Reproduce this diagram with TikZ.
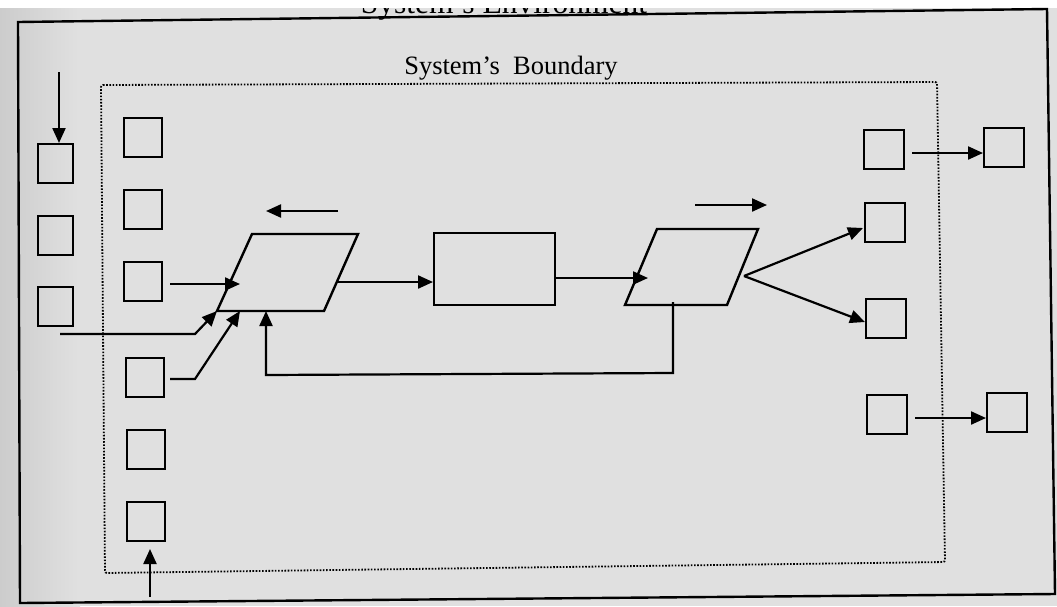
\documentclass[tikz,border=0pt]{standalone}
\usepackage{fontspec}
\setmainfont{Liberation Serif}
\usetikzlibrary{arrows.meta}
\begin{document}
\begin{tikzpicture}[x=1pt,y=-1pt,
  box/.style={draw, line width=2.4pt, minimum width=38pt, minimum height=39pt, inner sep=0pt, anchor=north west},
  ln/.style={line width=2.4pt},
  arr/.style={line width=2.2pt, -{Triangle[length=15pt,width=13pt]}},
  dotbound/.style={line width=1.8pt, dash pattern=on 1.6pt off 1.6pt, rounded corners=2pt},
  frame/.style={line width=2.4pt}
  ]
\useasboundingbox (0,0) rectangle (1057,606);
% paper
\fill[white] (0,0) rectangle (1057,8);
\fill[gray!24] (0,8) rectangle (1057,606);
\shade[left color=gray!40, right color=gray!24] (0,8) rectangle (80,606);

% title (cut off at the top, as in the scan)
\begin{scope}
  \clip (0,8) rectangle (1057,606);
  \node[anchor=base, inner sep=0pt, font=\fontsize{31.5}{36}\selectfont] (envlabel) at (504,13) {System's Environment};
\end{scope}

% environment frame and system boundary
\draw[frame] (18,22) -- (1047,9) -- (1055,594) -- (20,603) -- cycle;
\draw[dotbound] (101,85) -- (937,82) -- (945,562) -- (105,573) -- cycle;
\node[anchor=base, inner sep=0pt, font=\fontsize{26.5}{30}\selectfont] (boundlabel) at (511,74) {System's\ \ Boundary};

% outside-left boxes
\node[box, minimum width=35pt] (L1) at (37,143) {};
\node[box, minimum width=35pt] (L2) at (37,215) {};
\node[box, minimum width=35pt] (L3) at (37,286) {};
% inside-left boxes
\node[box] (I1) at (123,117) {};
\node[box] (I2) at (123,189) {};
\node[box] (I3) at (123,261) {};
\node[box] (I4) at (125,357) {};
\node[box] (I5) at (126,429) {};
\node[box] (I6) at (126,501) {};
% process
\node[box, minimum width=121pt, minimum height=72pt] (C) at (433,232) {};
% inside-right boxes
\node[box, minimum width=40pt] (R1) at (863,129) {};
\node[box, minimum width=40pt] (R2) at (864,202) {};
\node[box, minimum width=40pt] (R3) at (865,298) {};
\node[box, minimum width=40pt] (R4) at (866,394) {};
% outside-right boxes
\node[box, minimum width=40pt] (O1) at (983,127) {};
\node[box, minimum width=40pt] (O2) at (986,392) {};

% input parallelogram
\coordinate (P1a) at (252,234);
\coordinate (P1b) at (358,234);
\coordinate (P1c) at (324,311);
\coordinate (P1d) at (217,311);
\draw[ln] (P1a) -- (P1b) -- (P1c) -- (P1d) -- cycle;
% output parallelogram
\coordinate (P2a) at (657,229);
\coordinate (P2b) at (758,229);
\coordinate (P2c) at (727,305);
\coordinate (P2d) at (625,305);
\draw[ln] (P2a) -- (P2b) -- (P2c) -- (P2d) -- cycle;

% connectors
\coordinate (topin) at (59,72);
\draw[arr] (topin) -- (topin |- L1.north);
\coordinate (botin) at (150,597);
\coordinate (botend) at (150,549);
\draw[arr] (botin) -- (botend);

\coordinate (i3s) at (170,284);
\coordinate (i3t) at (240,284);
\draw[arr] (i3s) -- (i3t);
\coordinate (l3s) at (60,334);
\coordinate (l3k) at (195,334);
\draw[arr] (l3s) -- (l3k) -- (P1d);
\coordinate (i4s) at (170,379);
\coordinate (i4k) at (195,379);
\coordinate (i4t) at (240,311);
\draw[arr] (i4s) -- (i4k) -- (i4t);
\coordinate (fbs) at (673,302);
\coordinate (fbt) at (266,311);
\draw[arr] (fbs) -- (673,373) -- (266,375) -- (fbt);

\coordinate (p1out) at (338,282);
\draw[arr] (p1out) -- (p1out -| C.west);
\coordinate (cout) at (554,278);
\coordinate (p2in) at (648,278);
\draw[arr] (cout) -- (p2in);

\coordinate (fan) at (744,276);
\coordinate (r2t) at (863,228);
\coordinate (r3t) at (865,322);
\draw[arr] (fan) -- (r2t);
\draw[arr] (fan) -- (r3t);

\coordinate (r1s) at (912,153);
\draw[arr] (r1s) -- (r1s -| O1.west);
\coordinate (r4s) at (915,418);
\draw[arr] (r4s) -- (r4s -| O2.west);

% direction arrows
\coordinate (dl1) at (338,211);
\coordinate (dl2) at (266,211);
\draw[arr] (dl1) -- (dl2);
\coordinate (dr1) at (695,205);
\coordinate (dr2) at (767,205);
\draw[arr] (dr1) -- (dr2);
\end{tikzpicture}
\end{document}
